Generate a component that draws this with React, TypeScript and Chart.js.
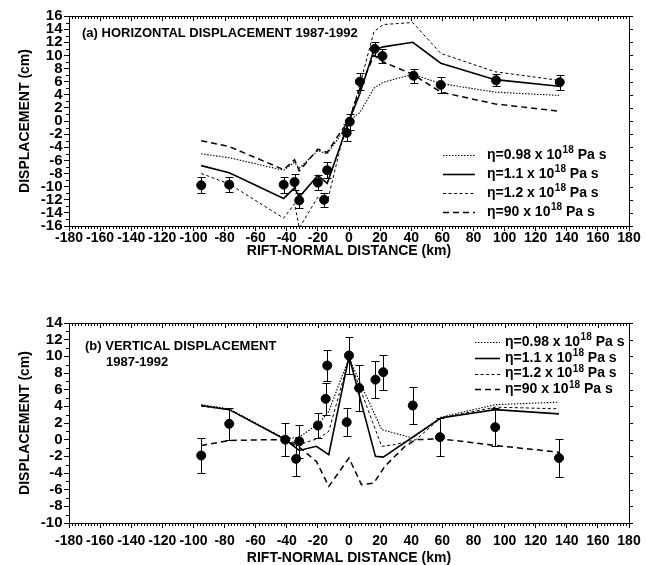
import React, { useEffect, useRef } from "react";
import { Chart, registerables } from "chart.js";

Chart.register(...registerables);

const FONT = "'Liberation Sans', Arial, Helvetica, sans-serif";

// ---------- shared text / categories ----------
const viscosities = ["0.98", "1.1", "1.2", "90"];
const viscExponent = "18";
const xAxisTitle = "RIFT-NORMAL DISTANCE (km)";
const yAxisTitle = "DISPLACEMENT (cm)";

// ---------- panel (a): horizontal displacement ----------
const hObsX = [-95, -77, -42, -35, -32, -20, -16, -14, -1.5, 0.5, 7, 16.5, 21.5, 41.5, 59, 94.5, 135.5];
const hObsY = [-9.8, -9.7, -9.7, -9.3, -12.1, -9.4, -12.0, -7.5, -1.8, -0.1, 6.0, 11.0, 9.9, 6.9, 5.5, 6.2, 5.9];
const hObsErr = [1.2, 1.1, 1.2, 1.2, 1.1, 1.1, 1.1, 1.2, 1.3, 1.2, 1.3, 1.1, 1.0, 1.1, 1.2, 0.9, 1.1];

const hModelX = [-95, -77, -42, -35, -32, -20, -14, -5, 0, 7, 16, 22, 41, 59, 94, 135];
const h098 = [-5.0, -5.6, -7.5, -6.3, -7.2, -4.5, -5.0, -2.0, 0, 1.3, 5.0, 5.9, 7.1, 5.7, 4.4, 3.9];
const h11 = [-6.8, -7.9, -11.8, -10.2, -11.6, -8.3, -9.5, -3.4, 0, 4.2, 10.8, 11.3, 12.0, 8.8, 6.3, 5.3];
const h12 = [-8.0, -9.6, -14.8, -12.6, -16.3, -11.6, -12.4, -3.5, 0, 5.5, 13.6, 14.7, 15.0, 10.3, 7.5, 6.2];
const h90 = [-3.0, -3.9, -7.4, -5.9, -7.6, -4.3, -4.8, -1.5, 0, 5.0, 10.0, 9.0, 7.1, 4.4, 2.6, 1.5];

// ---------- panel (b): vertical displacement ----------
const vObsX = [-95, -77, -41, -34, -32, -20, -15, -14, -1.5, 0, 6.5, 17, 22, 41, 58.5, 94, 135];
const vObsY = [-1.9, 1.9, 0.0, -2.3, -0.2, 1.7, 4.9, 8.9, 2.1, 10.1, 6.2, 7.2, 8.1, 4.1, 0.3, 1.5, -2.2];
const vObsErr = [2.1, 1.9, 2.0, 2.0, 2.0, 1.5, 1.9, 1.9, 1.7, 2.2, 2.8, 2.2, 2.1, 2.2, 2.25, 2.3, 2.3];

const v098X = [-95, -77, -41, -32, -19, -13, 0, 21, 41, 59, 94, 135];
const v098Y = [4.2, 3.7, 0.1, 0.3, 2.0, 3.4, 9.8, 1.2, 0.2, 2.7, 4.2, 4.5];
const v11X = [-95, -77, -41, -32, -21, -13, 0, 17, 22, 59, 94, 135];
const v11Y = [4.1, 3.6, 0.0, -1.3, -0.8, -1.8, 10.0, -2.0, -2.1, 2.6, 3.6, 3.1];
const v12X = [-95, -77, -41, -32, -19, -13, 0, 21, 29, 43, 59, 94, 135];
const v12Y = [4.0, 3.6, 0.1, -0.6, 0.2, 1.0, 9.7, -0.8, -0.6, 0.0, 2.6, 3.9, 3.7];
const v90X = [-95, -77, -51, -41, -32, -21, -13, 0, 8, 16, 23, 36, 43, 59, 94, 135];
const v90Y = [-0.7, -0.1, 0.0, 0.0, -0.9, -2.6, -5.6, -2.2, -5.4, -5.2, -3.2, -0.8, 0.0, 0.1, -0.7, -1.5];

// ---------- styles ----------
const lineStyles = [
  { dash: [1.5, 1.5], width: 1.1 },
  { dash: [], width: 1.6 },
  { dash: [3, 2.5], width: 1 },
  { dash: [6, 4], width: 1.5 },
];

function pts(xs: number[], ys: number[]) {
  return xs.map((x, i) => ({ x, y: ys[i] }));
}

function buildDatasets(obsX: number[], obsY: number[], obsErr: number[], models: { x: number[]; y: number[] }[]) {
  const ds: any[] = [
    {
      label: "observed",
      data: pts(obsX, obsY),
      errors: obsErr,
      showLine: false,
      pointRadius: 4.5,
      pointHoverRadius: 4.5,
      pointBackgroundColor: "#000",
      pointBorderColor: "#000",
      borderColor: "#000",
    },
  ];
  models.forEach((m, i) => {
    ds.push({
      label: `η=${viscosities[i]} x 10¹⁸ Pa s`,
      visc: viscosities[i],
      data: pts(m.x, m.y),
      showLine: true,
      pointRadius: 0,
      borderColor: "#000",
      borderWidth: lineStyles[i].width,
      borderDash: lineStyles[i].dash,
      fill: false,
      tension: 0,
    });
  });
  return ds;
}

// ---------- plugins ----------
const frameTicks = {
  id: "frameTicks",
  afterDraw(chart: any, _args: any, opts: any) {
    const { ctx, chartArea: a, scales } = chart;
    const x = scales.x;
    const y = scales.y;
    ctx.save();
    ctx.strokeStyle = "#000";
    ctx.lineWidth = 1;
    ctx.beginPath();
    ctx.moveTo(a.left, Math.round(a.top) + 0.5);
    ctx.lineTo(Math.round(a.right) + 0.5, Math.round(a.top) + 0.5);
    ctx.lineTo(Math.round(a.right) + 0.5, a.bottom);
    ctx.stroke();
    ctx.beginPath();
    for (let v = x.min; v <= x.max + 1e-6; v += opts.xMinor) {
      const px = Math.round(x.getPixelForValue(v)) + 0.5;
      const major = Math.abs(Math.round(v)) % opts.xMajor === 0;
      ctx.moveTo(px, a.top);
      ctx.lineTo(px, a.top + (major ? 5 : 3));
      if (!major) {
        ctx.moveTo(px, a.bottom);
        ctx.lineTo(px, a.bottom + 3);
      }
    }
    for (let v = y.min; v <= y.max + 1e-6; v += opts.yMinor) {
      const py = Math.round(y.getPixelForValue(v)) + 0.5;
      const major = Math.abs(Math.round(v)) % opts.yMajor === 0;
      if (!major) {
        ctx.moveTo(a.left, py);
        ctx.lineTo(a.left - 3, py);
      } else {
        ctx.moveTo(a.right, py);
        ctx.lineTo(a.right + 4, py);
      }
    }
    ctx.stroke();
    ctx.restore();
  },
};

const errorBars = {
  id: "errorBars",
  beforeDatasetsDraw(chart: any) {
    const { ctx, scales, chartArea: a } = chart;
    const x = scales.x;
    const y = scales.y;
    ctx.save();
    ctx.beginPath();
    ctx.rect(a.left, a.top, a.right - a.left, a.bottom - a.top);
    ctx.clip();
    ctx.strokeStyle = "#000";
    ctx.lineWidth = 1;
    chart.data.datasets.forEach((ds: any) => {
      if (!ds.errors) return;
      ds.data.forEach((p: any, i: number) => {
        const e = ds.errors[i];
        const px = Math.round(x.getPixelForValue(p.x)) + 0.5;
        const y1 = Math.round(y.getPixelForValue(p.y + e)) + 0.5;
        const y2 = Math.round(y.getPixelForValue(p.y - e)) + 0.5;
        ctx.beginPath();
        ctx.moveTo(px, y1);
        ctx.lineTo(px, y2);
        ctx.moveTo(px - 4, y1);
        ctx.lineTo(px + 4, y1);
        ctx.moveTo(px - 4, y2);
        ctx.lineTo(px + 4, y2);
        ctx.stroke();
      });
    });
    ctx.restore();
  },
};

const innerLegend = {
  id: "innerLegend",
  afterDraw(chart: any, _args: any, opts: any) {
    const { ctx } = chart;
    ctx.save();
    let row = 0;
    chart.data.datasets.forEach((ds: any) => {
      if (!ds.visc) return;
      const y = opts.y + row * opts.spacing;
      ctx.strokeStyle = "#000";
      ctx.lineWidth = ds.borderWidth;
      ctx.setLineDash(ds.borderDash || []);
      ctx.beginPath();
      ctx.moveTo(opts.x1, Math.round(y) + 0.5);
      ctx.lineTo(opts.x2, Math.round(y) + 0.5);
      ctx.stroke();
      ctx.setLineDash([]);
      ctx.fillStyle = "#000";
      ctx.textBaseline = "middle";
      ctx.textAlign = "left";
      ctx.font = `bold ${opts.size}px ${FONT}`;
      let tx = opts.tx;
      const main = `η=${ds.visc} x 10`;
      ctx.fillText(main, tx, y);
      tx += ctx.measureText(main).width + 0.5;
      ctx.font = `bold ${Math.round(opts.size * 0.68)}px ${FONT}`;
      ctx.fillText(viscExponent, tx, y - opts.size * 0.33);
      tx += ctx.measureText(viscExponent).width;
      ctx.font = `bold ${opts.size}px ${FONT}`;
      ctx.fillText(" Pa s", tx, y);
      row++;
    });
    ctx.restore();
  },
};

const panelTitle = {
  id: "panelTitle",
  afterDraw(chart: any, _args: any, opts: any) {
    const { ctx } = chart;
    ctx.save();
    ctx.fillStyle = "#000";
    ctx.textBaseline = "middle";
    ctx.textAlign = "left";
    ctx.font = `bold ${opts.size}px ${FONT}`;
    (opts.lines || []).forEach((l: any) => ctx.fillText(l.text, l.x, l.y));
    ctx.restore();
  },
};

function makeConfig(p: any): any {
  return {
    type: "scatter",
    data: { datasets: p.datasets },
    plugins: [errorBars, frameTicks, innerLegend, panelTitle],
    options: {
      animation: false,
      responsive: false,
      devicePixelRatio: 1,
      events: [],
      layout: { padding: { left: 0, right: 18, top: p.padTop, bottom: 0 } },
      plugins: {
        legend: { display: false },
        tooltip: { enabled: false },
        title: { display: false },
        frameTicks: { xMinor: 2, xMajor: 20, yMinor: 1, yMajor: 2 },
        innerLegend: p.legend,
        panelTitle: p.title,
      },
      scales: {
        x: {
          type: "linear",
          position: "bottom",
          min: -180,
          max: 180,
          afterFit: (s: any) => {
            s.height = p.xHeight;
          },
          ticks: {
            stepSize: 20,
            autoSkip: false,
            maxRotation: 0,
            minRotation: 0,
            padding: p.xTickPad,
            color: "#000",
            font: { family: FONT, size: 14, weight: "bold", lineHeight: 1 },
          },
          grid: { display: true, drawOnChartArea: false, drawTicks: true, tickLength: 5, tickColor: "#000", tickWidth: 1 },
          border: { display: true, color: "#000", width: 1 },
          title: {
            display: true,
            text: xAxisTitle,
            color: "#000",
            font: { family: FONT, size: 14, weight: "bold", lineHeight: 1 },
            padding: { top: 0, bottom: p.xTitlePad },
          },
        },
        y: {
          type: "linear",
          position: "left",
          min: p.yMin,
          max: p.yMax,
          afterFit: (s: any) => {
            s.width = 69;
          },
          ticks: {
            stepSize: 2,
            autoSkip: false,
            padding: 1.5,
            color: "#000",
            font: { family: FONT, size: 15, weight: "bold", lineHeight: 1 },
          },
          grid: { display: true, drawOnChartArea: false, drawTicks: true, tickLength: 5, tickColor: "#000", tickWidth: 1 },
          border: { display: true, color: "#000", width: 1 },
          title: {
            display: true,
            text: yAxisTitle,
            color: "#000",
            font: { family: FONT, size: 14, weight: "bold", lineHeight: 1 },
            padding: { top: 18, bottom: 0 },
          },
        },
      },
    },
  };
}

export default function App() {
  const refA = useRef<HTMLCanvasElement>(null);
  const refB = useRef<HTMLCanvasElement>(null);

  useEffect(() => {
    const dsA = buildDatasets(hObsX, hObsY, hObsErr, [
      { x: hModelX, y: h098 },
      { x: hModelX, y: h11 },
      { x: hModelX, y: h12 },
      { x: hModelX, y: h90 },
    ]);
    const dsB = buildDatasets(vObsX, vObsY, vObsErr, [
      { x: v098X, y: v098Y },
      { x: v11X, y: v11Y },
      { x: v12X, y: v12Y },
      { x: v90X, y: v90Y },
    ]);
    const chartA = new Chart(
      refA.current as HTMLCanvasElement,
      makeConfig({
        datasets: dsA,
        padTop: 16,
        xHeight: 36,
        xTickPad: 0,
        xTitlePad: 4,
        yMin: -16,
        yMax: 16,
        legend: { x1: 443, x2: 475, tx: 487, y: 155, spacing: 19, size: 14 },
        title: { size: 13, lines: [{ text: "(a) HORIZONTAL DISPLACEMENT 1987-1992", x: 82, y: 33 }] },
      })
    );
    const chartB = new Chart(
      refB.current as HTMLCanvasElement,
      makeConfig({
        datasets: dsB,
        padTop: 61,
        xHeight: 42,
        xTickPad: 6,
        xTitlePad: 0,
        yMin: -10,
        yMax: 14,
        legend: { x1: 475, x2: 500, tx: 505, y: 80, spacing: 15.8, size: 14 },
        title: {
          size: 13,
          lines: [
            { text: "(b) VERTICAL DISPLACEMENT", x: 85, y: 84 },
            { text: "1987-1992", x: 106, y: 100.5 },
          ],
        },
      })
    );
    return () => {
      chartA.destroy();
      chartB.destroy();
    };
  }, []);

  return (
    <div style={{ position: "absolute", left: 0, top: 0, width: 647, height: 565, background: "#fff" }}>
      <canvas ref={refA} width={647} height={262} style={{ position: "absolute", left: 0, top: 0, width: 647, height: 262 }} />
      <canvas ref={refB} width={647} height={303} style={{ position: "absolute", left: 0, top: 262, width: 647, height: 303 }} />
    </div>
  );
}
